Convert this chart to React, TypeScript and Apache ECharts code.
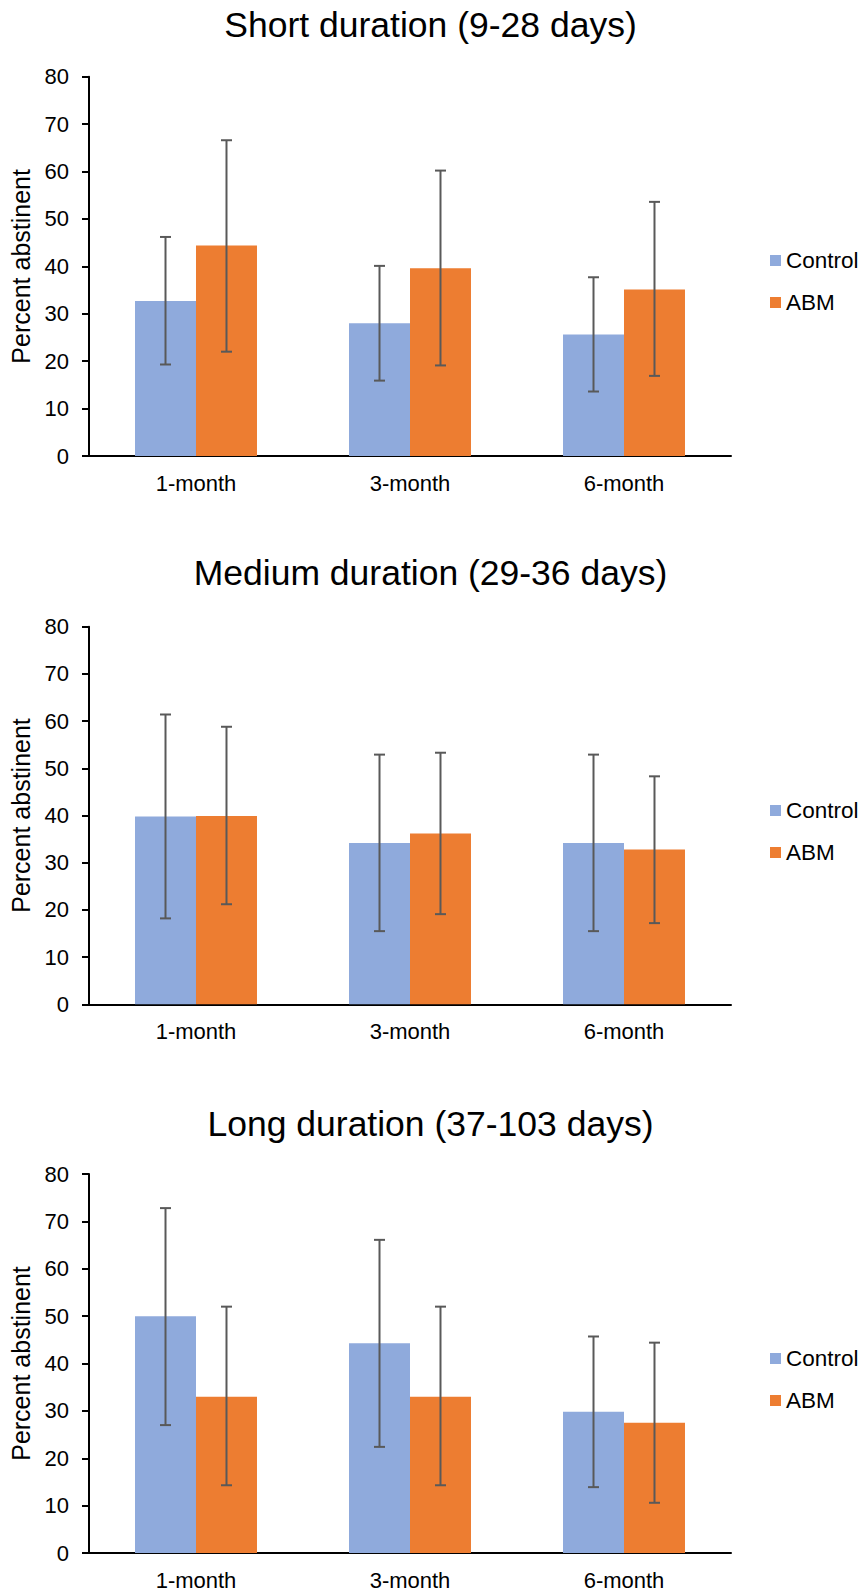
import React, { useEffect, useRef } from "react";
import * as echarts from "echarts";

const FONT = "Arial, 'Liberation Sans', sans-serif";

const categories = ["1-month", "3-month", "6-month"];
const seriesNames = ["Control", "ABM"];
const titles = [
  "Short duration (9-28 days)",
  "Medium duration (29-36 days)",
  "Long duration (37-103 days)",
];
const yTicks = { min: 0, max: 80, interval: 10 };

// Short duration
const shortControl = [32.7, 28.0, 25.6];
const shortControlLow = [19.3, 15.9, 13.6];
const shortControlHigh = [46.2, 40.1, 37.7];
const shortAbm = [44.4, 39.6, 35.1];
const shortAbmLow = [22.0, 19.1, 16.9];
const shortAbmHigh = [66.6, 60.2, 53.6];

// Medium duration
const mediumControl = [39.8, 34.2, 34.2];
const mediumControlLow = [18.2, 15.5, 15.5];
const mediumControlHigh = [61.4, 52.9, 52.9];
const mediumAbm = [39.9, 36.2, 32.8];
const mediumAbmLow = [21.2, 19.1, 17.2];
const mediumAbmHigh = [58.8, 53.3, 48.3];

// Long duration
const longControl = [50.0, 44.3, 29.8];
const longControlLow = [27.0, 22.4, 13.9];
const longControlHigh = [72.8, 66.1, 45.7];
const longAbm = [33.0, 33.0, 27.5];
const longAbmLow = [14.3, 14.3, 10.6];
const longAbmHigh = [52.0, 52.0, 44.4];

const panels = [
  {
    values: [shortControl, shortAbm],
    lows: [shortControlLow, shortAbmLow],
    highs: [shortControlHigh, shortAbmHigh],
  },
  {
    values: [mediumControl, mediumAbm],
    lows: [mediumControlLow, mediumAbmLow],
    highs: [mediumControlHigh, mediumAbmHigh],
  },
  {
    values: [longControl, longAbm],
    lows: [longControlLow, longAbmLow],
    highs: [longControlHigh, longAbmHigh],
  },
];

const COLORS = ["#8FAADC", "#ED7D31"];
const CAT_GAP = 0.43;

const layout = [
  { top: 76.7, height: 379.3, titleTop: 7, legendTop: 249 },
  { top: 626.7, height: 377.6, titleTop: 555, legendTop: 799 },
  { top: 1174, height: 379, titleTop: 1106, legendTop: 1347 },
];

function buildOption() {
  const grid: any[] = [];
  const xAxis: any[] = [];
  const yAxis: any[] = [];
  const title: any[] = [];
  const legend: any[] = [];
  const series: any[] = [];

  panels.forEach((p, i) => {
    const L = layout[i];
    grid.push({ left: 89, width: 642, top: L.top, height: L.height });
    title.push({
      text: titles[i],
      left: "center",
      top: L.titleTop,
      padding: 0,
      textStyle: { fontSize: 35.5, fontWeight: "normal", color: "#000", fontFamily: FONT },
    });
    legend.push({
      orient: "vertical",
      left: 770,
      top: L.legendTop,
      padding: 0,
      itemWidth: 11,
      itemHeight: 11,
      itemGap: 19,
      icon: "rect",
      data: seriesNames,
      textStyle: { fontSize: 22.5, color: "#000", fontFamily: FONT },
    });
    xAxis.push({
      type: "category",
      gridIndex: i,
      data: categories,
      axisLine: { lineStyle: { color: "#000", width: 2 } },
      axisTick: { show: false },
      axisLabel: { fontSize: 22, color: "#000", margin: 16, fontFamily: FONT },
    });
    yAxis.push({
      type: "value",
      gridIndex: i,
      min: yTicks.min,
      max: yTicks.max,
      interval: yTicks.interval,
      name: "Percent abstinent",
      nameLocation: "middle",
      nameGap: 54,
      nameTextStyle: { fontSize: 25, color: "#000", fontFamily: FONT },
      axisLine: { show: true, lineStyle: { color: "#000", width: 2 } },
      axisTick: { show: true, length: 7, lineStyle: { color: "#000", width: 2 } },
      splitLine: { show: false },
      axisLabel: { fontSize: 22, color: "#000", margin: 20, fontFamily: FONT },
    });

    seriesNames.forEach((name, s) => {
      series.push({
        type: "bar",
        name,
        xAxisIndex: i,
        yAxisIndex: i,
        data: p.values[s],
        barGap: "0%",
        barCategoryGap: CAT_GAP * 100 + "%",
        itemStyle: { color: COLORS[s] },
        z: 2,
      });
    });
    seriesNames.forEach((name, s) => {
      const sign = s === 0 ? -1 : 1;
      series.push({
        type: "custom",
        name: name + " error",
        xAxisIndex: i,
        yAxisIndex: i,
        z: 5,
        silent: true,
        encode: { x: 0, y: [1, 2] },
        data: categories.map((_, c) => [c, p.lows[s][c], p.highs[s][c]]),
        renderItem: (params: any, api: any) => {
          const c = api.value(0);
          const lo = api.coord([c, api.value(1)]);
          const hi = api.coord([c, api.value(2)]);
          const band = api.size([1, 0])[0];
          const barW = (band * (1 - CAT_GAP)) / 2;
          const x = lo[0] + (sign * barW) / 2;
          const cap = 5.5;
          const style = { stroke: "#595959", lineWidth: 2 };
          return {
            type: "group",
            children: [
              { type: "line", shape: { x1: x, y1: hi[1], x2: x, y2: lo[1] }, style },
              { type: "line", shape: { x1: x - cap, y1: hi[1], x2: x + cap, y2: hi[1] }, style },
              { type: "line", shape: { x1: x - cap, y1: lo[1], x2: x + cap, y2: lo[1] }, style },
            ],
          };
        },
      });
    });
  });

  return {
    animation: false,
    backgroundColor: "#fff",
    textStyle: { fontFamily: FONT },
    title,
    legend,
    grid,
    xAxis,
    yAxis,
    series,
  };
}

export default function App() {
  const ref = useRef<HTMLDivElement>(null);
  useEffect(() => {
    if (!ref.current) return;
    const chart = echarts.init(ref.current, undefined, { renderer: "svg" });
    chart.setOption(buildOption() as any);
    return () => chart.dispose();
  }, []);
  return (
    <div
      ref={ref}
      style={{ position: "absolute", left: 0, top: 0, width: 861, height: 1591, background: "#fff" }}
    />
  );
}
